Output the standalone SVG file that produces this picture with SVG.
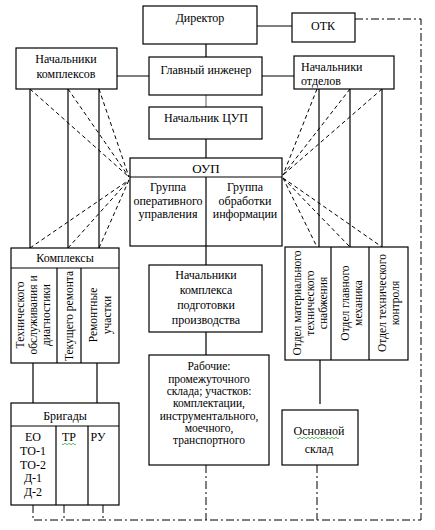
<svg xmlns="http://www.w3.org/2000/svg" width="435" height="530" viewBox="0 0 435 530">
<style>
rect{fill:#fff;stroke:#000;stroke-width:1.2}
.l{stroke:#000;stroke-width:1.2;fill:none}
.g{stroke:#777;stroke-width:1.2;fill:none}
.d{stroke:#000;stroke-width:1;fill:none;stroke-dasharray:4,3}
.dd{stroke:#000;stroke-width:1;fill:none;stroke-dasharray:8,3,2,3}
text{font-size:12px;fill:#000}
.c{text-anchor:middle}
.s{font-size:11.5px}
.w{stroke:#3a3;stroke-width:0.8;fill:none}
</style>
<g id="connectors">
<path class="l" d="M206 44V57M257 26H292M117 76H149M262 76H294M206 139V158M206 246V265M206 332V355"/>
<path class="g" d="M206 95V107"/>
<path class="l" d="M30 89V248M68 89V248M99 89V248M319 89V247M350 89V247M382 89V247"/>
<path class="l" d="M33 363V403M97 363V403M320 360V404"/>
<path class="d" d="M30 89L129 177M68 89L129 177M99 89L129 177M30 248L129 180M68 248L129 180M99 248L129 180"/>
<path class="d" d="M317 89L283 175M350 89L283 175M382 89L283 175M283 178L317 247M283 178L350 247M283 178L382 247"/>
<path class="dd" d="M355 19H421V520M33 505V520H421M64 505V520M103 505V520M206 465V520M317 465V520"/>
</g>
<g id="director"><rect x="143" y="6" width="114" height="38"/><text font-family="Liberation Serif" class="c" x="200" y="22">Директор</text></g>
<g id="otk"><rect x="292" y="13" width="63" height="29"/><text font-family="Liberation Serif" class="c" x="323" y="30">ОТК</text></g>
<g id="nach-kompleksov"><rect x="16" y="48" width="101" height="41"/><text font-family="Liberation Serif" class="c" x="66" y="63">Начальники</text><text font-family="Liberation Serif" class="c" x="66" y="78">комплексов</text></g>
<g id="glavny"><rect x="149" y="57" width="113" height="38"/><text font-family="Liberation Serif" class="c" x="206" y="74">Главный инженер</text></g>
<g id="nach-otdelov"><rect x="294" y="56" width="100" height="33"/><text font-family="Liberation Serif" x="301" y="71">Начальники</text><text font-family="Liberation Serif" x="301" y="85">отделов</text></g>
<g id="nach-cup"><rect x="149" y="107" width="113" height="32"/><text font-family="Liberation Serif" class="c" x="206" y="122">Начальник ЦУП</text></g>
<g id="oup"><rect x="130" y="158" width="152" height="88"/><path class="l" d="M130 177H282M206 177V246"/>
<text font-family="Liberation Serif" class="c" x="206" y="173" style="font-size:13px">ОУП</text>
<text font-family="Liberation Serif" class="c" x="168" y="191">Группа</text><text font-family="Liberation Serif" class="c" x="168" y="205">оперативного</text><text font-family="Liberation Serif" class="c" x="168" y="218">управления</text>
<text font-family="Liberation Serif" class="c" x="245" y="191">Группа</text><text font-family="Liberation Serif" class="c" x="245" y="205">обработки</text><text font-family="Liberation Serif" class="c" x="245" y="218">информации</text></g>
<g id="kompleksy"><rect x="11" y="248" width="108" height="115"/><path class="l" d="M11 268H119M57 268V363M81 268V363"/>
<text font-family="Liberation Serif" class="c" x="65" y="262">Комплексы</text>
<g transform="translate(34,315) rotate(-90)"><text font-family="Liberation Serif" class="c s" y="-10">Технического</text><text font-family="Liberation Serif" class="c s" y="3">обслуживания и</text><text font-family="Liberation Serif" class="c s" y="16">диагностики</text></g>
<g transform="translate(69,316) rotate(-90)"><text font-family="Liberation Serif" class="c s" y="4">Текущего ремонта</text></g>
<g transform="translate(100,315) rotate(-90)"><text font-family="Liberation Serif" class="c s" y="-3">Ремонтные</text><text font-family="Liberation Serif" class="c s" y="11">участки</text></g></g>
<g id="otdely"><rect x="285" y="247" width="123" height="113"/><path class="l" d="M331 247V360M369 247V360"/>
<g transform="translate(310,303) rotate(-90)"><text font-family="Liberation Serif" class="c s" y="-9">Отдел материального</text><text font-family="Liberation Serif" class="c s" y="4">технического</text><text font-family="Liberation Serif" class="c s" y="17">снабжения</text></g>
<g transform="translate(351,303) rotate(-90)"><text font-family="Liberation Serif" class="c s" y="-2">Отдел главного</text><text font-family="Liberation Serif" class="c s" y="11">механика</text></g>
<g transform="translate(389,303) rotate(-90)"><text font-family="Liberation Serif" class="c s" y="-3">Отдел технического</text><text font-family="Liberation Serif" class="c s" y="10">контроля</text></g></g>
<g id="nach-podgotovki"><rect x="149" y="265" width="113" height="67"/>
<text font-family="Liberation Serif" class="c" x="206" y="279">Начальники</text><text font-family="Liberation Serif" class="c" x="206" y="294">комплекса</text><text font-family="Liberation Serif" class="c" x="206" y="309">подготовки</text><text font-family="Liberation Serif" class="c" x="206" y="324">производства</text></g>
<g id="rabochie"><rect x="149" y="355" width="120" height="110"/>
<text font-family="Liberation Serif" class="c s" x="209" y="370">Рабочие:</text><text font-family="Liberation Serif" class="c s" x="209" y="383">промежуточного</text><text font-family="Liberation Serif" class="c s" x="209" y="395">склада; участков:</text><text font-family="Liberation Serif" class="c s" x="209" y="407">комплектации,</text><text font-family="Liberation Serif" class="c s" x="209" y="420">инструментального,</text><text font-family="Liberation Serif" class="c s" x="209" y="432">моечного,</text><text font-family="Liberation Serif" class="c s" x="209" y="444">транспортного</text></g>
<g id="brigady"><rect x="11" y="403" width="108" height="102"/><path class="l" d="M11 426H119M56 426V505M88 426V505"/>
<text font-family="Liberation Serif" class="c" x="65" y="420">Бригады</text>
<text font-family="Liberation Serif" class="c" x="33" y="441">ЕО</text><text font-family="Liberation Serif" class="c" x="33" y="455">ТО-1</text><text font-family="Liberation Serif" class="c" x="33" y="469">ТО-2</text><text font-family="Liberation Serif" class="c" x="33" y="482">Д-1</text><text font-family="Liberation Serif" class="c" x="33" y="496">Д-2</text>
<text font-family="Liberation Serif" class="c" x="69" y="441">ТР</text><path class="w" d="M62 444q1 1.5 2 0t2 0t2 0t2 0t2 0t2 0t2 0"/>
<text font-family="Liberation Serif" class="c" x="98" y="441">РУ</text></g>
<g id="osnovnoy-sklad"><rect x="282" y="410" width="76" height="55"/>
<text font-family="Liberation Serif" class="c" x="319" y="435">Основной</text><path class="w" d="M297 438q1 1.5 2 0t2 0t2 0t2 0t2 0t2 0t2 0t2 0t2 0t2 0t2 0t2 0t2 0t2 0t2 0t2 0t2 0t2 0t2 0t2 0t2 0"/>
<text font-family="Liberation Serif" class="c" x="319" y="453">склад</text></g>
</svg>
